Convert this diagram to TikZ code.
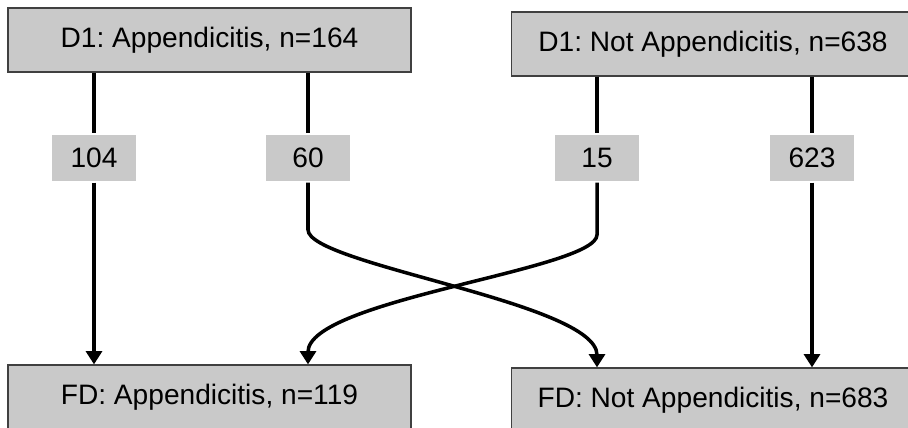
\documentclass[tikz,border=0pt]{standalone}
\usepackage{fontspec}
\setmainfont{Liberation Sans}
\usetikzlibrary{arrows.meta}
\frenchspacing

\begin{document}
\begin{tikzpicture}[x=0.02cm,y=-0.02cm,line width=2pt,-{Triangle[width=9pt,length=7.5pt]},
        box/.style={draw=black!75,line width=0.7pt,fill=black!21,minimum width=8.06cm,minimum height=1.28cm,font=\fontsize{16}{19}\selectfont},
        count/.style={fill=black!21,minimum width=1.68cm,minimum height=0.92cm,font=\fontsize{16}{19}\selectfont}]
        \useasboundingbox (0,0) rectangle (908,428);
        \node[box] (D1_app) at (209.5,40) {D1: Appendicitis, n=164};
        \node[box] (D1_not) at (713,44) {D1: Not Appendicitis, n=638};
        \node[box] (FD_app) at (209.5,397) {FD: Appendicitis, n=119};
        \node[box] (FD_not) at (713,400) {FD: Not Appendicitis, n=683};
        \node[count] (n104) at (94,158) {104};
        \node[count] (n60) at (308,158) {60};
        \node[count] (n15) at (597,158) {15};
        \node[count] (n623) at (812,158) {623};
        \draw[-] (D1_app.south -| n104) -- (n104);
        \draw (n104) -- (FD_app.north -| n104);
        \draw[-] (D1_app.south -| n60) -- (n60);
        \draw (n60.south) -- ++(0,47) .. controls +(0,35) and +(0,-65) .. (FD_not.north -| n15);
        \draw[-] (D1_not.south -| n15) -- (n15);
        \draw (n15.south) -- ++(0,52) .. controls +(0,35) and +(0,-65) .. (FD_app.north -| n60);
        \draw[-] (D1_not.south -| n623) -- (n623);
        \draw (n623) -- (FD_not.north -| n623);
    \end{tikzpicture}
\end{document}
